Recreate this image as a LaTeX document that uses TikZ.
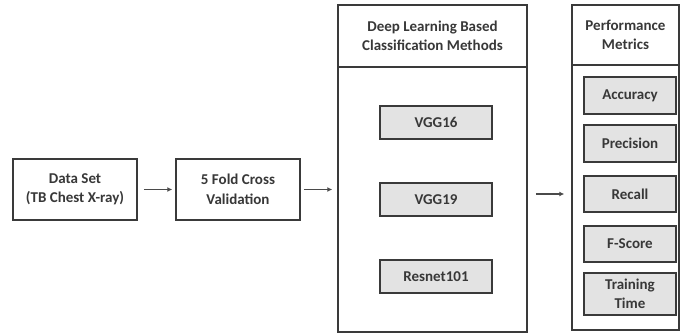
\documentclass[tikz,border=0pt]{standalone}
\usepackage{fontspec}
\setmainfont{Carlito}
\usetikzlibrary{arrows.meta,positioning,calc}
\definecolor{edge}{HTML}{3A3A3A}
\definecolor{shade}{HTML}{E3E3E3}
\definecolor{flow}{HTML}{4A4A4A}

\begin{document}
\begin{tikzpicture}[x=1pt,y=-1pt,>={Latex[length=5pt,width=5pt]},
  box/.style={draw=edge,line width=1.5pt,fill=white,align=center,inner sep=2pt,
    font=\fontsize{15}{19.5}\selectfont\bfseries,text=black!78},
  item/.style={box,fill=shade,line width=1.4pt},
  flowarrow/.style={->,flow,line width=1.6pt}]
 \useasboundingbox (0,0) rectangle (681,334);
 % input side
 \node[box,minimum width=124pt,minimum height=61pt] (data) at (75,189.5) {Data Set\\(TB Chest X-ray)};
 \node[box,minimum width=124pt,minimum height=61pt] (cv) at (238,189.5) {5 Fold Cross\\Validation};
 % classification methods
 \node[box,minimum width=189pt,minimum height=62pt] (dlhead) at (432.5,36) {Deep Learning Based\\Classification Methods};
 \node[box,minimum width=189pt,minimum height=265pt] (dlbody) at (432.5,199.5) {};
 \foreach \n/\y/\t in {vgga/122.5/VGG16,vggb/199.5/VGG19,resnet/276.5/Resnet101}{
  \node[item,minimum width=112pt,minimum height=33pt] (\n) at (436,\y) {\t};}
 % metrics
 \node[box,minimum width=107pt,minimum height=60pt] (pmhead) at (625.5,35) {Performance\\Metrics};
 \node[box,minimum width=107pt,minimum height=265pt] (pmbody) at (625.5,197.5) {};
 \foreach \n/\y/\h/\t in {acc/95.5/37/Accuracy,prec/143.5/37/Precision,rec/194/36/Recall,
   fsc/244/36/F-Score,ttime/294/42/{Training\\Time}}{
  \node[item,minimum width=92pt,minimum height=\h pt] (\n) at (630,\y) {\t};}
 % connectors
 \draw[flowarrow,shorten <=6pt,shorten >=3pt] (data.east) -- (cv.west);
 \draw[flowarrow,shorten <=3pt,shorten >=5pt] (cv.east) -- (cv.east -| dlbody.west);
 \draw[flowarrow,shorten <=8pt,shorten >=7pt] (dlbody.east |- rec.west) -- (pmbody.west |- rec.west);
\end{tikzpicture}
\end{document}
